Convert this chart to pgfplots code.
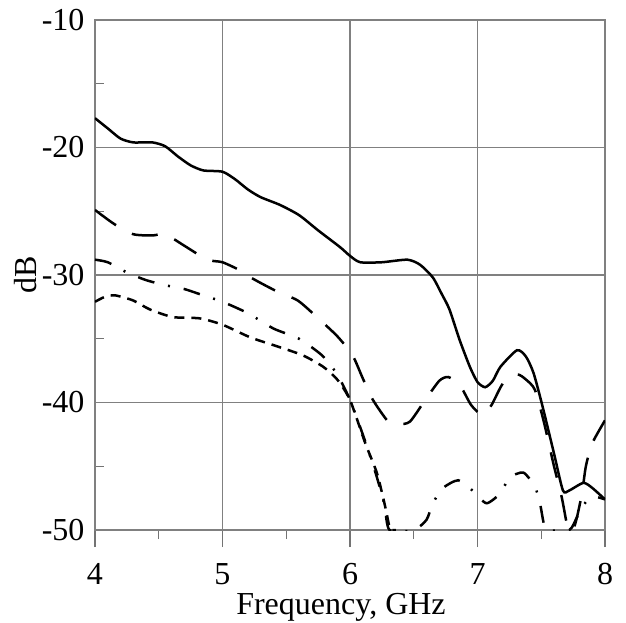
\documentclass[border=0pt]{standalone}
\usepackage{fontspec}
\setmainfont{Liberation Serif}
\usepackage{pgfplots}
\pgfplotsset{compat=1.18}

\begin{document}
\begin{tikzpicture}
\begin{axis}[
    name=ax,
    width=510pt, height=510pt, scale only axis,
    xmin=4, xmax=8, ymin=-50, ymax=-10,
    xtick={4,5,6,7,8}, xticklabels={4,5,6,7,8},
    ytick={-50,-40,-30,-20,-10}, yticklabels={-50,-40,-30,-20,-10},
    minor x tick num=1, minor y tick num=1,
    xtick pos=bottom, ytick pos=left,
    xtick align=outside, ytick align=inside,
    major tick length=17pt, minor tick length=9pt,
    major y tick style={draw=none},
    tick style={gray!90!black, line width=1.2pt},
    grid=major,
    major grid style={gray, line width=1.2pt},
    axis line style={gray, line width=1.2pt},
    tick label style={font=\fontsize{32}{36}\selectfont},
    xticklabel style={yshift=-13pt},
    yticklabel style={xshift=-7pt},
    label style={font=\fontsize{32}{36}\selectfont},
    xlabel={Frequency, GHz},
    xlabel style={yshift=-1.5pt, xshift=-9pt},
    ylabel={dB},
    ylabel style={at={(rel axis cs:-0.137,0.5)}, anchor=center},
]

% solid
\addplot[black, line width=2.5pt, smooth, tension=0.4] coordinates {
(4.00,-17.7) (4.10,-18.5) (4.20,-19.3) (4.30,-19.6) (4.45,-19.6) (4.55,-19.9)
(4.65,-20.7) (4.75,-21.4) (4.85,-21.8) (5.00,-21.9) (5.10,-22.5) (5.20,-23.3)
(5.30,-23.9) (5.45,-24.5) (5.60,-25.3) (5.75,-26.5) (5.92,-27.8) (6.00,-28.5)
(6.08,-29.0) (6.25,-29.0) (6.45,-28.8) (6.55,-29.2) (6.65,-30.2) (6.72,-31.5)
(6.78,-32.7) (6.86,-35.1) (6.94,-37.2) (7.00,-38.4) (7.06,-38.8) (7.12,-38.3)
(7.18,-37.2) (7.31,-35.9) (7.38,-36.4) (7.44,-37.7) (7.51,-40.3) (7.60,-44.0)
(7.67,-46.9) (7.72,-46.9) (7.83,-46.3) (7.90,-46.7) (8.00,-47.6)
};

% long dash
\addplot[black, line width=2.5pt, smooth, tension=0.4, dash pattern=on 26pt off 18pt] coordinates {
(4.00,-24.9) (4.15,-26.0) (4.30,-26.8) (4.45,-26.9) (4.55,-26.8) (4.70,-27.7)
(4.88,-28.8) (5.00,-29.0) (5.15,-29.7) (5.24,-30.3) (5.41,-31.2) (5.59,-32.0)
(5.74,-33.3) (5.90,-34.8) (6.02,-36.3) (6.10,-38.1) (6.18,-39.8) (6.30,-41.5)
(6.38,-41.7) (6.47,-41.5) (6.59,-39.8) (6.70,-38.3) (6.77,-38.0) (6.86,-38.6)
(6.95,-40.2) (7.04,-41.0) (7.11,-40.2) (7.20,-38.5) (7.31,-37.8) (7.38,-38.2)
(7.45,-39.0) (7.52,-41.5) (7.60,-45.0) (7.66,-47.4) (7.70,-49.5) (7.72,-50.0)
(7.75,-50.0) (7.78,-49.0) (7.82,-47.1) (7.85,-45.0) (7.90,-43.2) (8.00,-41.4)
};

% dash dot
\addplot[black, line width=2.5pt, smooth, tension=0.4, dash pattern=on 17pt off 14pt on 2pt off 14pt] coordinates {
(4.00,-28.8) (4.10,-29.0) (4.25,-29.8) (4.40,-30.4) (4.55,-30.8) (4.70,-31.1)
(4.85,-31.6) (5.00,-32.1) (5.20,-33.0) (5.40,-34.2) (5.60,-35.0) (5.78,-36.3)
(5.90,-37.8) (6.00,-39.8) (6.10,-42.5) (6.20,-45.5) (6.27,-48.0) (6.31,-50.0)
(6.50,-50.0) (6.60,-49.2) (6.65,-47.9) (6.73,-46.7) (6.85,-46.1) (6.96,-46.9)
(7.07,-47.9) (7.18,-47.1) (7.25,-45.9) (7.36,-45.5) (7.45,-46.6) (7.49,-47.9)
(7.52,-49.5) (7.55,-50.0) (7.72,-50.0) (7.78,-49.0) (7.85,-47.8) (7.92,-47.4)
(8.00,-47.6)
};

% short dash
\addplot[black, line width=2.5pt, smooth, tension=0.4, dash pattern=on 10pt off 7pt] coordinates {
(4.00,-32.1) (4.08,-31.7) (4.16,-31.6) (4.30,-32.0) (4.43,-32.7) (4.61,-33.3)
(4.82,-33.4) (5.00,-33.9) (5.22,-34.9) (5.43,-35.6) (5.63,-36.3) (5.79,-37.2)
(5.90,-38.2) (6.00,-39.8) (6.12,-43.2) (6.21,-45.5) (6.27,-47.9) (6.31,-49.8)
(6.32,-50.0) (6.36,-50.0)
};
\end{axis}
\pgfresetboundingbox
\path[use as bounding box] ([xshift=-95pt,yshift=-93pt]ax.south west) rectangle ([xshift=21pt,yshift=20pt]ax.north east);
\end{tikzpicture}
\end{document}
